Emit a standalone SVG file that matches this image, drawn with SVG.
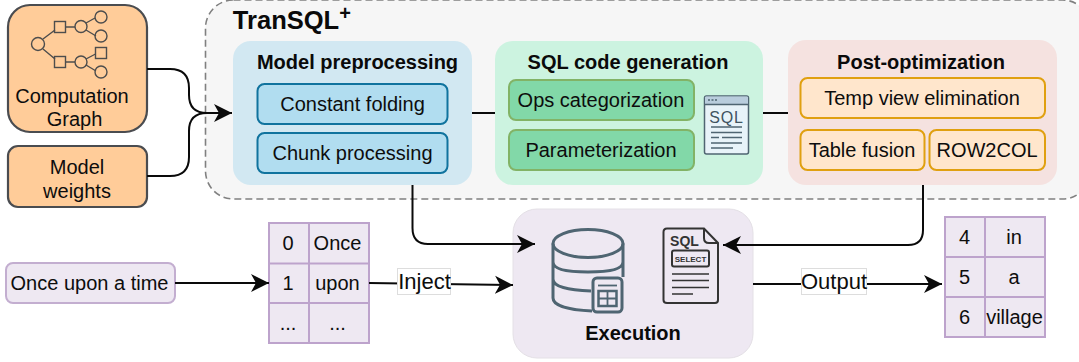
<svg xmlns="http://www.w3.org/2000/svg" width="1079" height="362" viewBox="0 0 1079 362">
<style>
text{font-family:"Liberation Sans",Arial,sans-serif;font-size:20px;fill:#0d0d0d;text-anchor:middle}
.b{font-weight:bold;font-size:20px;fill:#0a0a0a}
.o{fill:#ffcc99;stroke:#4a4c50;stroke-width:2.2}
.blue{fill:#b1ddf0;stroke:#10739e;stroke-width:2}
.green{fill:#82d8a8;stroke:#82b366;stroke-width:2}
.amber{fill:#ffe6cc;stroke:#e0a010;stroke-width:2}
.purple{fill:#eee8f2;stroke:#c3aed0;stroke-width:2}
.tl{fill:none;stroke:#bda3cc;stroke-width:2}
.g{fill:none;stroke:#4d4d4d;stroke-width:1.4}
.c{fill:none;stroke:#0a0a0a;stroke-width:2}
.db{fill:none;stroke:#4f6572;stroke-width:3}
.doc{fill:none;stroke:#333;stroke-width:2}
.ln{fill:none;stroke:#333;stroke-width:1.6}
.ic{fill:none;stroke:#4f6572;stroke-width:1.6}
</style>
<defs>
<marker id="arr" markerUnits="userSpaceOnUse" markerWidth="20" markerHeight="20" refX="18" refY="9" orient="auto" viewBox="0 0 20 18"><path d="M0 0L18 9L0 18L5 9Z" fill="#0a0a0a"/></marker>
</defs>

<g id="transql">
<rect x="205.500" y="0" width="885" height="199" rx="28" fill="#f6f6f6" stroke="#808080" stroke-width="1.600" stroke-dasharray="7 4"/>
<text x="286" y="29" class="b" style="font-size:25.500px">TranSQL</text>
<text x="345" y="20" class="b" style="font-size:20px">+</text>
</g>

<g id="computation-graph">
<rect class="o" x="8" y="5" width="139" height="127" rx="22"/>
<g class="g">
<circle cx="38" cy="44" r="6.500"/><rect x="54.500" y="21.500" width="11" height="11"/><circle cx="81" cy="26.500" r="6"/><circle cx="101" cy="17" r="6"/><circle cx="101" cy="36" r="6"/>
<rect x="54.500" y="56.500" width="11" height="11"/><circle cx="81" cy="62" r="6"/><rect x="95.500" y="47.500" width="11" height="11"/><circle cx="101" cy="72" r="6"/>
<path d="M43 39L55 30M43 49L55 59M65.500 27H75M65.500 62H75M86 23L95 18M86 30L96 36M86 59L95.500 54M86 65L96 71"/>
</g>
<text x="72" y="103">Computation</text>
<text x="74.500" y="126">Graph</text>
</g>

<g id="model-weights">
<rect class="o" x="8" y="146" width="139" height="61" rx="10"/>
<text x="77" y="174">Model</text>
<text x="77" y="198">weights</text>
</g>

<g id="model-preprocessing">
<rect x="233" y="41" width="239" height="144" rx="18" fill="#d2e8f2"/>
<text x="357.500" y="69" class="b">Model preprocessing</text>
<rect class="blue" x="257.500" y="84" width="190" height="40" rx="7"/>
<text x="352.500" y="111">Constant folding</text>
<rect class="blue" x="257.500" y="133" width="190" height="40" rx="7"/>
<text x="352.500" y="160">Chunk processing</text>
</g>

<g id="sql-code-generation">
<rect x="495" y="41" width="268" height="144" rx="18" fill="#ccf3e0"/>
<text x="628" y="69" class="b">SQL code generation</text>
<rect class="green" x="509" y="80" width="185" height="40" rx="7"/>
<text x="601" y="107">Ops categorization</text>
<rect class="green" x="509" y="130" width="185" height="40" rx="7"/>
<text x="601" y="157">Parameterization</text>
<g id="sql-window-icon">
<rect x="704.500" y="96" width="44" height="58" rx="2" fill="#e8f3f9" stroke="#4f6572" stroke-width="1.500"/>
<path d="M705 104V97.500Q705 96.500 706 96.500H747Q748 96.500 748 97.500V104Z" fill="#b9cddd"/>
<path class="ic" d="M705 104.500H748"/>
<path d="M708 100h2M711.500 100h2M715 100h2" stroke="#4f6572" stroke-width="1.500" fill="none"/>
<text x="726.500" y="122.500" style="font-size:16px;letter-spacing:.8px;fill:#3f5461">SQL</text>
<path class="ic" d="M711 127H742M711 132.500H742M711 137.500H719M722 137.500H742M711 143H742M711 148H733"/>
</g>
</g>

<g id="post-optimization">
<rect x="788" y="40" width="269" height="145" rx="18" fill="#f5e2e0"/>
<text x="921" y="69" class="b">Post-optimization</text>
<rect class="amber" x="800.500" y="78" width="244.500" height="40" rx="7"/>
<text x="922" y="105">Temp view elimination</text>
<rect class="amber" x="800.500" y="130" width="124" height="40" rx="7"/>
<text x="862" y="157">Table fusion</text>
<rect class="amber" x="929.500" y="130" width="115.500" height="40" rx="7"/>
<text x="987" y="157">ROW2COL</text>
</g>

<g id="input-text">
<rect class="purple" x="6" y="263" width="169" height="40" rx="7"/>
<text x="89.500" y="290">Once upon a time</text>
</g>

<g id="input-table">
<rect x="269" y="223" width="100" height="120" fill="#eee8f2"/>
<path class="tl" d="M269 223H369V343H269ZM269 263.500H369M269 303H369M309 223V343"/>
<text x="288" y="250">0</text><text x="337.500" y="250">Once</text>
<text x="288" y="290">1</text><text x="337.500" y="290">upon</text>
<text x="288" y="330">...</text><text x="337.500" y="330">...</text>
</g>

<g id="execution">
<rect x="513" y="209" width="240" height="149" rx="24" fill="#eee8f2" stroke="#e4e0e6" stroke-width="1"/>
<g id="database-icon">
<ellipse cx="588" cy="243.500" rx="35" ry="14" class="db"/>
<path class="db" d="M553 243.500V298C553 306 570 310 592 311M623 243.500V277M553 262C553 270 570 272 588 272C606 272 623 270 623 262M553 279C553 287 568 290 591 291"/>
<rect x="593" y="278" width="29" height="34" rx="4" fill="#eee8f2" stroke="#4f6572" stroke-width="3"/>
<path d="M598 285.500H617" stroke="#4f6572" stroke-width="1.800"/>
<rect x="598.500" y="291" width="18" height="15" fill="none" stroke="#4f6572" stroke-width="2.500"/>
<path d="M607.500 291V306M598.500 298.500H616.500" stroke="#4f6572" stroke-width="1.800"/>
</g>
<g id="sql-doc-icon">
<path class="doc" d="M667 228.500H704L718 243V300Q718 303 715 303H667Q663.500 303 663.500 300V232Q663.500 228.500 667 228.500ZM704 229V238Q704 243 709 243H718"/>
<text x="684.500" y="246" style="font-size:14px;font-weight:bold;fill:#333">SQL</text>
<rect x="672" y="250.500" width="37" height="16" rx="2" fill="none" stroke="#333" stroke-width="2"/>
<text x="690.500" y="262" style="font-size:8px;font-weight:bold;fill:#333">SELECT</text>
<path class="ln" d="M672 274H709M672 280.500H709M672 287.500H709M672 294H693"/>
</g>
<text x="633" y="340" class="b">Execution</text>
</g>

<g id="output-table">
<rect x="945" y="217" width="100" height="120" fill="#eee8f2"/>
<path class="tl" d="M945 217H1045V337H945ZM945 257H1045M945 297H1045M985 217V337"/>
<text x="964.500" y="244">4</text><text x="1014" y="244">in</text>
<text x="964.500" y="284">5</text><text x="1014" y="284">a</text>
<text x="964.500" y="324">6</text><text x="1014.500" y="324">village</text>
</g>

<g id="connectors">
<path class="c" d="M147 69H170Q189 69 189 88V95Q189 113 207 113H232" marker-end="url(#arr)"/>
<path class="c" d="M147 176H170Q189 176 189 157V131Q189 113 207 113H232"/>
<path class="c" d="M472 113H495"/>
<path class="c" d="M763 113H788"/>
<path class="c" d="M412.500 185V228Q412.500 244 428 244H535" marker-end="url(#arr)"/>
<path class="c" d="M923 185V230Q923 245 908 245H723" marker-end="url(#arr)"/>
<path class="c" d="M175 283H269" marker-end="url(#arr)"/>
<path class="c" d="M369 283L513 285" marker-end="url(#arr)"/>
<path class="c" d="M753 284H942" marker-end="url(#arr)"/>
</g>

<g id="inject-label">
<rect x="397.500" y="268.500" width="53" height="26" fill="#fff" stroke="#ddd" stroke-width="1"/>
<text x="424.500" y="288.500" style="font-size:22px">Inject</text>
</g>

<g id="output-label">
<rect x="801.500" y="268.500" width="65" height="26" fill="#fff" stroke="#ddd" stroke-width="1"/>
<text x="834" y="288.500" style="font-size:22px">Output</text>
</g>
</svg>
